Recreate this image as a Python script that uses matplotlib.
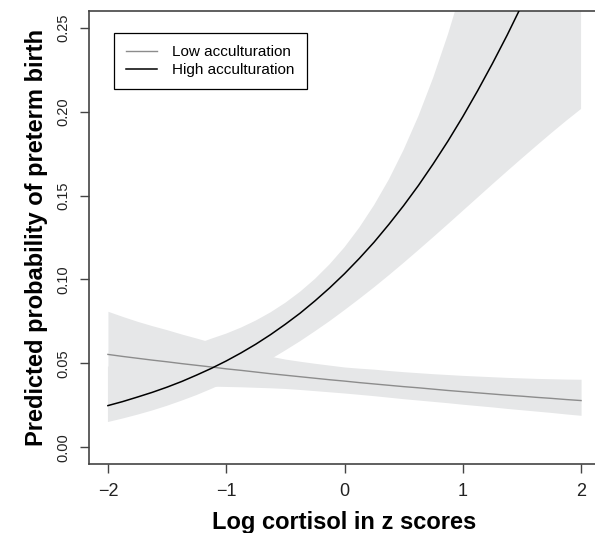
import matplotlib
matplotlib.use("Agg")
import matplotlib.pyplot as plt

plt.rcParams["font.family"] = ["Liberation Sans", "DejaVu Sans"]

# log cortisol (z scores) at which the predictions were read
cortisol = [-2.0, -1.875, -1.75, -1.625, -1.5, -1.375, -1.25, -1.125, -1.0,
            -0.875, -0.75, -0.625, -0.5, -0.375, -0.25, -0.125, 0.0,
            0.125, 0.25, 0.375, 0.5, 0.625, 0.75, 0.875, 1.0,
            1.125, 1.25, 1.375, 1.5, 1.625, 1.75, 1.875, 2.0]

# low acculturation: predicted probability and 95% band
low_pred = [0.0553, 0.0541, 0.0530, 0.0519, 0.0509, 0.0498, 0.0488, 0.0478, 0.0467,
            0.0458, 0.0448, 0.0438, 0.0429, 0.0420, 0.0411, 0.0402, 0.0394,
            0.0385, 0.0377, 0.0369, 0.0361, 0.0354, 0.0346, 0.0338, 0.0331,
            0.0324, 0.0317, 0.0310, 0.0304, 0.0297, 0.0291, 0.0284, 0.0278]
low_upper = [0.0810, 0.0779, 0.0750, 0.0724, 0.0700, 0.0674, 0.0650, 0.0625, 0.0600,
             0.0579, 0.0560, 0.0542, 0.0525, 0.0512, 0.0500, 0.0489, 0.0478,
             0.0471, 0.0465, 0.0457, 0.0450, 0.0444, 0.0438, 0.0433, 0.0428,
             0.0424, 0.0420, 0.0416, 0.0413, 0.0410, 0.0408, 0.0406, 0.0405]
low_lower = [0.0376, 0.0375, 0.0373, 0.0370, 0.0367, 0.0366, 0.0365, 0.0364, 0.0362,
             0.0360, 0.0357, 0.0354, 0.0350, 0.0344, 0.0337, 0.0330, 0.0323,
             0.0315, 0.0307, 0.0298, 0.0289, 0.0281, 0.0273, 0.0265, 0.0256,
             0.0248, 0.0240, 0.0231, 0.0223, 0.0215, 0.0207, 0.0198, 0.0190]

# high acculturation: predicted probability and 95% band
high_pred = [0.0248, 0.0272, 0.0299, 0.0327, 0.0358, 0.0392, 0.0430, 0.0470, 0.0514,
             0.0562, 0.0614, 0.0671, 0.0733, 0.0799, 0.0872, 0.0950, 0.1034,
             0.1125, 0.1222, 0.1328, 0.1440, 0.1560, 0.1689, 0.1825, 0.1970,
             0.2124, 0.2286, 0.2456, 0.2636, 0.2823, 0.3018, 0.3220, 0.3430]
high_upper = [0.0480, 0.0500, 0.0520, 0.0540, 0.0565, 0.0590, 0.0615, 0.0647, 0.0677,
              0.0713, 0.0755, 0.0804, 0.0861, 0.0927, 0.1003, 0.1091, 0.1192,
              0.1309, 0.1443, 0.1596, 0.1773, 0.1974, 0.2203, 0.2462, 0.2753,
              0.3080, 0.3441, 0.3800, 0.4200, 0.4600, 0.5000, 0.5400, 0.5800]
high_lower = [0.0150, 0.0171, 0.0194, 0.0219, 0.0247, 0.0278, 0.0311, 0.0348, 0.0387,
              0.0430, 0.0476, 0.0524, 0.0577, 0.0632, 0.0691, 0.0752, 0.0817,
              0.0884, 0.0953, 0.1025, 0.1099, 0.1175, 0.1252, 0.1330, 0.1409,
              0.1488, 0.1567, 0.1645, 0.1722, 0.1798, 0.1873, 0.1946, 0.2016]

band_col = "#e6e7e8"

fig = plt.figure(figsize=(5.95, 5.33), dpi=100)
ax = fig.add_axes([0.1496, 0.1295, 0.8588, 0.8499])

ax.fill_between(cortisol, low_lower, low_upper, color=band_col, lw=0, zorder=1)
ax.fill_between(cortisol, high_lower, high_upper, color=band_col, lw=0, zorder=1)
ax.plot(cortisol, low_pred, color="#8c8c8c", lw=1.0, zorder=3, label="Low acculturation")
ax.plot(cortisol, high_pred, color="black", lw=1.1, zorder=3, label="High acculturation")

ax.set_xlim(-2.16, 2.16)
ax.set_ylim(-0.01, 0.26)
ax.set_xticks([-2, -1, 0, 1, 2])
ax.set_yticks([0.00, 0.05, 0.10, 0.15, 0.20, 0.25])
ax.set_yticklabels(["0.00", "0.05", "0.10", "0.15", "0.20", "0.25"])

for side in ["left", "bottom", "top"]:
    ax.spines[side].set_color("#444444")
    ax.spines[side].set_linewidth(1.2)
ax.spines["right"].set_visible(False)

ax.tick_params(axis="both", direction="out", length=6.5, width=1.0, color="#444444",
               labelcolor="#222222")
ax.tick_params(axis="x", labelsize=13, pad=7)
ax.tick_params(axis="y", labelsize=10.5, pad=7)
for lbl in ax.get_yticklabels():
    lbl.set_rotation(90)
    lbl.set_va("center")

ax.set_xlabel("Log cortisol in z scores", fontsize=17, fontweight="bold", labelpad=8)
ax.set_ylabel("Predicted probability of preterm birth", fontsize=17, fontweight="bold", labelpad=6)

leg = ax.legend(loc="upper left", bbox_to_anchor=(0.049, 0.951), borderaxespad=0,
                fontsize=11, frameon=True, fancybox=False, edgecolor="black",
                framealpha=1, handlelength=2.0, handletextpad=1.0,
                borderpad=0.8, labelspacing=0.25)
leg.get_frame().set_linewidth(0.9)

fig.savefig("out.png", dpi=100)
